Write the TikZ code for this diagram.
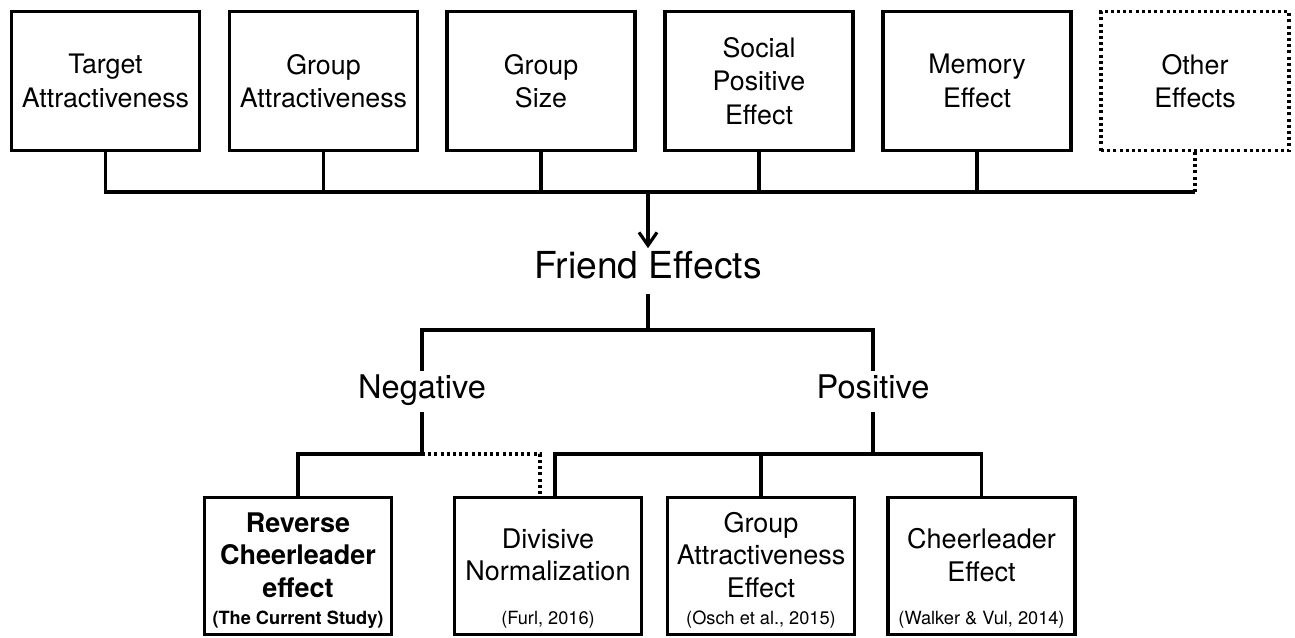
\documentclass[tikz,border=0pt]{standalone}
\usepackage{fontspec}
\setmainfont{TeX Gyre Heros}
\usepackage{tikz}
\usetikzlibrary{arrows.meta,positioning}

\begin{document}
\begin{tikzpicture}[x=0.5pt,y=-0.5pt,line width=1.6pt,>={Straight Barb[length=6.5pt,width=9pt]}]
\tikzset{t/.style={draw,minimum width=94pt,minimum height=69.5pt,inner sep=0pt,align=center,font=\fontsize{13.4}{16.75}\selectfont}, l/.style={draw,minimum width=93.5pt,minimum height=68.5pt,inner sep=0pt}, m/.style={align=center,font=\fontsize{13.5}{16.25}\selectfont}, mb/.style={align=center,font=\fontsize{13.5}{16.25}\selectfont\bfseries}, r/.style={font=\fontsize{9.1}{11}\selectfont}, rb/.style={font=\fontsize{9.1}{11}\selectfont\bfseries}, dots/.style={dash pattern=on 1.5pt off 1.6pt}, h/.style={text height=0.72em,text depth=0pt}}
\useasboundingbox (0,0) rectangle (1295,637);
% what feeds the friend effects
\node[t] (ta) at (105.5,81) {Target\\Attractiveness};
\node[t] (ga) at (323.5,81) {Group\\Attractiveness};
\node[t] (gs) at (541,81) {Group\\Size};
\node[t] (sp) at (759,81) {Social\\Positive\\Effect};
\node[t] (me) at (977,81) {Memory\\Effect};
\node[t,dots] (oe) at (1195,81) {Other\\Effects};
\node[h,inner sep=7pt,font=\fontsize{18.6}{21}\selectfont] (fe) at (648,271) {Friend Effects};
\node[h,inner sep=6pt,font=\fontsize{16.3}{19}\selectfont] (neg) at (422,391.5) {Negative};
\node[h,inner sep=6pt,font=\fontsize{16.3}{19}\selectfont] (pos) at (873,391.5) {Positive};
\coordinate (tb) at (648,192);
\coordinate (fb) at (648,330);
\coordinate (nb) at (422,454);
\coordinate (pb) at (873,454);
\draw (ta.south) |- (tb) -- (tb -| oe.south);
\foreach \n in {ga,gs,sp,me} \draw (\n.south) -- (\n.south |- tb);
\draw[dots] (tb -| oe.south) -- (oe.south);
\draw[->] (tb) -- (fe);
\draw (fe) -- (fb);\draw (neg.north) |- (fb) -| (pos.north);
% studies
\node[l] (rev) at (298,566) {};
\node[l] (div) at (548,566) {};
\node[l] (grp) at (761,566) {};
\node[l] (chr) at (981.5,566) {};
\node[mb] (revt) at (298,555) {Reverse\\Cheerleader\\effect};
\node[m] (divt) at (548,555) {Divisive\\Normalization};
\node[m] (grpt) at (761,555) {Group\\Attractiveness\\Effect};
\node[m] (chrt) at (981.5,555) {Cheerleader\\Effect};
\node[rb] (revc) at (298,620) {(The Current Study)};
\node[r] (divc) at (548,620) {(Furl, 2016)};
\node[r] (grpc) at (761,620) {(Osch et al., 2015)};
\node[r] (chrc) at (981.5,620) {(Walker \& Vul, 2014)};
\draw (neg) -- (nb) -| (rev.north);
\draw[dots] (nb) -| ([xshift=-4pt]div.north);
\draw (pos) -- (pb);
\draw ([xshift=3.5pt]div.north) |- (pb) -| (chr.north);
\draw (grp.north) -- (grp.north |- pb);
\end{tikzpicture}
\end{document}
